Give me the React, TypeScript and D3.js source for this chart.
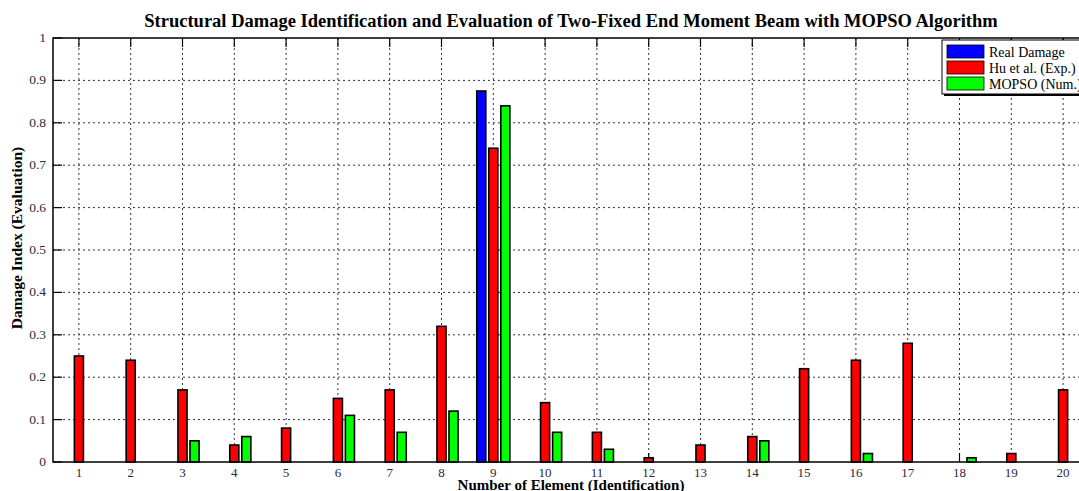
import React from "react";
import * as d3 from "d3";

const elements = d3.range(1, 21);
const seriesNames = ["Real Damage", "Hu et al. (Exp.)", "MOPSO (Num.)"];
const seriesColors = ["#0000ff", "#ff0000", "#00ff00"];
const realDamage = [0, 0, 0, 0, 0, 0, 0, 0, 0.875, 0, 0, 0, 0, 0, 0, 0, 0, 0, 0, 0];
const huExp = [0.25, 0.24, 0.17, 0.04, 0.08, 0.15, 0.17, 0.32, 0.74, 0.14, 0.07, 0.01, 0.04, 0.06, 0.22, 0.24, 0.28, 0, 0.02, 0.17];
const mopso = [0, 0, 0.05, 0.06, 0, 0.11, 0.07, 0.12, 0.84, 0.07, 0.03, 0, 0, 0.05, 0, 0.02, 0, 0.01, 0, 0];
const yTicks = [0, 0.1, 0.2, 0.3, 0.4, 0.5, 0.6, 0.7, 0.8, 0.9, 1];
const title = "Structural Damage Identification and Evaluation of Two-Fixed End Moment Beam with MOPSO Algorithm";
const xLabel = "Number of Element (Identification)";
const yLabel = "Damage Index (Evaluation)";

const W = 1079;
const H = 491;
const left = 53;
const right = 1089;
const top = 38;
const bottom = 462;
const font = "'Liberation Serif', 'Times New Roman', serif";
const tickColor = "#2a2a3a";

export default function App() {
  const x = d3.scaleLinear().domain([0.5, 20.5]).range([left, right]);
  const y = d3.scaleLinear().domain([0, 1]).range([bottom, top]);
  const series = [realDamage, huExp, mopso];
  const offsets = [-0.232, 0, 0.232];
  const bw = x(0.175) - x(0);

  return (
    <svg width={W} height={H} style={{ position: "absolute", left: 0, top: 0, background: "#fff" }}>
      <rect x={0} y={0} width={W} height={H} fill="#fff" />
      {yTicks.slice(1, -1).map((t) => (
        <line key={"gy" + t} x1={left} x2={right} y1={y(t)} y2={y(t)} stroke="#333" strokeWidth={1} strokeDasharray="2,3" />
      ))}
      {elements.map((e) => (
        <line key={"gx" + e} x1={x(e)} x2={x(e)} y1={top} y2={bottom} stroke="#333" strokeWidth={1} strokeDasharray="2,3" />
      ))}
      {elements.map((e) => (
        <g key={"tx" + e}>
          <line x1={x(e)} x2={x(e)} y1={bottom} y2={bottom - 9} stroke="#000" strokeWidth={1.2} />
          <line x1={x(e)} x2={x(e)} y1={top} y2={top + 9} stroke="#000" strokeWidth={1.2} />
        </g>
      ))}
      {yTicks.map((t) => (
        <line key={"ty" + t} x1={left} x2={left + 9} y1={y(t)} y2={y(t)} stroke="#000" strokeWidth={1.2} />
      ))}
      {series.map((vals, si) =>
        vals.map((v, i) =>
          v > 0 ? (
            <rect
              key={`b${si}-${i}`}
              x={x(elements[i] + offsets[si]) - bw / 2}
              y={y(v)}
              width={bw}
              height={y(0) - y(v)}
              fill={seriesColors[si]}
              stroke="#000"
              strokeWidth={1.6}
            />
          ) : null
        )
      )}
      <rect x={left} y={top} width={right - left} height={bottom - top} fill="none" stroke="#000" strokeWidth={1.5} />
      {yTicks.map((t) => (
        <text key={"ly" + t} x={left - 7} y={y(t)} dy="0.3em" textAnchor="end" fontFamily={font} fontSize={13.5} fill={tickColor}>
          {d3.format("~g")(t)}
        </text>
      ))}
      {elements.map((e) => (
        <text key={"lx" + e} x={x(e)} y={bottom + 15} textAnchor="middle" fontFamily={font} fontSize={13} fill={tickColor}>
          {e}
        </text>
      ))}
      <text x={(left + right) / 2} y={27} textAnchor="middle" fontFamily={font} fontSize={18.5} fontWeight="bold" fill="#000">
        {title}
      </text>
      <text x={(left + right) / 2} y={490} textAnchor="middle" fontFamily={font} fontSize={15} fontWeight="bold" fill="#000">
        {xLabel}
      </text>
      <text transform={`translate(22, ${(top + bottom) / 2 - 12}) rotate(-90)`} textAnchor="middle" fontFamily={font} fontSize={15.5} fontWeight="bold" fill="#000">
        {yLabel}
      </text>
      <g>
        <rect x={944} y={42} width={140} height={54} fill="#000" />
        <rect x={942} y={40} width={140} height={54} fill="#fff" stroke="#000" strokeWidth={1} />
        {seriesNames.map((n, i) => (
          <g key={"lg" + i}>
            <rect x={947} y={45 + i * 16} width={37} height={13} fill={seriesColors[i]} stroke="#000" strokeWidth={0.8} />
            <text x={989} y={52 + i * 16} dy="0.35em" fontFamily={font} fontSize={14} fill="#000">
              {n}
            </text>
          </g>
        ))}
      </g>
    </svg>
  );
}
